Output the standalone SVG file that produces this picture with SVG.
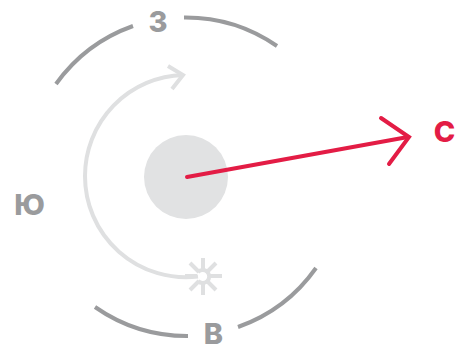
<svg xmlns="http://www.w3.org/2000/svg" width="456" height="355" viewBox="0 0 456 355">
<style>
.dir{fill:none;stroke:#9a9b9d;stroke-width:4}
.lbl{font-family:"Inter","Liberation Sans",sans-serif;font-weight:800;font-size:29px;fill:#9a9b9d;text-anchor:middle}
.sun{fill:none;stroke:#dfe0e1;stroke-width:4}
.red{fill:none;stroke:#e31c45;stroke-width:4;stroke-linecap:round;stroke-linejoin:miter}
</style>
<g id="disc"><circle cx="186" cy="177" r="42" fill="#e1e2e3"/></g>
<g id="north"><text class="lbl" x="158" y="32">З</text></g>
<g id="south"><text class="lbl" x="213.500" y="344">В</text></g>
<g id="west"><text class="lbl" x="29.500" y="215">Ю</text></g>
<g id="east"><text class="lbl" x="444.500" y="142" style="fill:#e31c45">С</text></g>
<g id="sunmark" class="sun">
<path d="M198 272A6.500 6.500 0 1 1 198 281"/>
<path d="M203 258V272M203 281V295M185 276H197M209 276H222M190 263L199 272M207 281L216 290M216 263L207 272M199 281L190 290"/>
</g>
<g id="connectors">
<path class="dir" d="M56 84A161 161 0 0 1 133 26"/>
<path class="dir" d="M184 17.500A161 161 0 0 1 277 46"/>
<path class="dir" d="M95 307A161 161 0 0 0 188 336"/>
<path class="dir" d="M238 327A161 161 0 0 0 316 268"/>
<path d="M198 276.500A101 101 0 0 1 85 176A101 101 0 0 1 183 75" fill="none" stroke="#dfe0e1" stroke-width="4"/>
<path d="M168 66L183 75L172 89" fill="none" stroke="#dfe0e1" stroke-width="4"/>
<path class="red" d="M187 177L408 137"/>
<path class="red" d="M381 118L409 137L389 164"/>
</g>
</svg>
